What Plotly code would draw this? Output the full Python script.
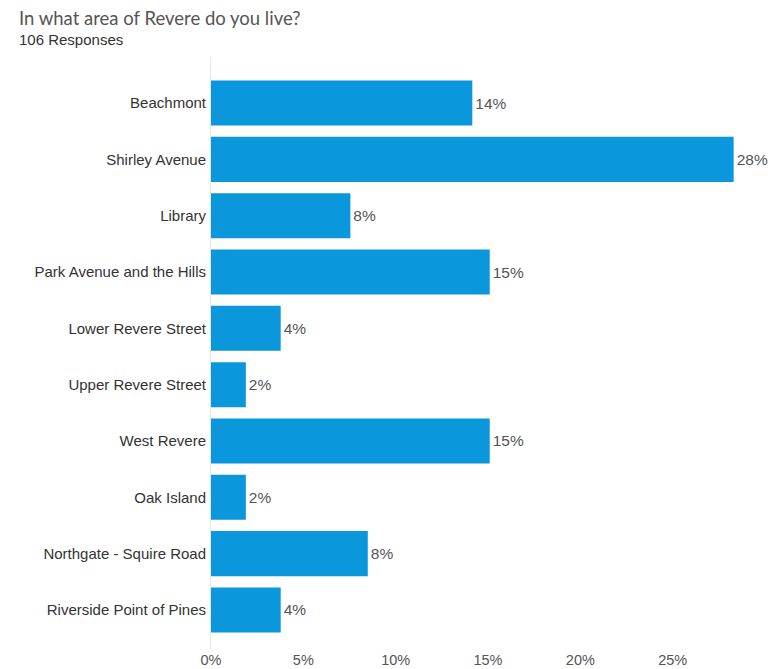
import plotly.graph_objects as go

# Survey: "In what area of Revere do you live?" (106 responses)
areas = [
    "Beachmont",
    "Shirley Avenue",
    "Library",
    "Park Avenue and the Hills",
    "Lower Revere Street",
    "Upper Revere Street",
    "West Revere",
    "Oak Island",
    "Northgate - Squire Road",
    "Riverside Point of Pines",
]
counts = [15, 30, 8, 16, 4, 2, 16, 2, 9, 4]
total_responses = 106
percents = [c / total_responses * 100 for c in counts]

x_ticks = [0, 5, 10, 15, 20, 25]
x_tick_labels = [f"{t}%" for t in x_ticks]

W, H = 778, 669
m_left, m_right, m_top, m_bottom = 211, 13, 57, 20
BASE_FONT = "Liberation Sans, Arial, sans-serif"
text_x = -(m_left - 17) / (W - m_left - m_right)
plot_h = H - m_top - m_bottom

fig = go.Figure(
    go.Bar(
        x=percents,
        y=areas,
        orientation="h",
        marker=dict(color="#0a97dc", line=dict(width=0)),
        text=[f"{p:.0f}%" for p in percents],
        textposition="outside",
        textfont=dict(family=BASE_FONT, size=15.5, color="#555555"),
        cliponaxis=False,
        hoverinfo="skip",
    )
)

fig.update_layout(
    width=W,
    height=H,
    margin=dict(l=m_left, r=m_right, t=m_top, b=m_bottom, pad=0),
    paper_bgcolor="white",
    plot_bgcolor="white",
    bargap=0.2,
    showlegend=False,
    font=dict(family=BASE_FONT, size=15, color="#333333"),
    xaxis=dict(
        range=[0, 30],
        tickvals=x_ticks,
        ticktext=x_tick_labels,
        showgrid=False,
        zeroline=False,
        showline=False,
        ticks="",
        tickfont=dict(size=14.5, color="#555555"),
        automargin=False,
    ),
    yaxis=dict(
        categoryorder="array",
        categoryarray=areas,
        range=[9.693, -0.817],
        showgrid=False,
        zeroline=False,
        showline=True,
        linecolor="#e6e6e6",
        linewidth=1,
        ticks="",
        ticklabelstandoff=1,
        tickfont=dict(size=15, color="#333333"),
        automargin=False,
    ),
    annotations=[
        dict(
            text="In what area of Revere do you live?",
            xref="paper", yref="paper",
            x=text_x,
            y=1 + (m_top - 18) / plot_h,
            xanchor="left", yanchor="middle",
            showarrow=False,
            font=dict(family="Lato, Liberation Sans, sans-serif", size=18.5, color="#555555"),
        ),
        dict(
            text=f"{total_responses} Responses",
            xref="paper", yref="paper",
            x=text_x,
            y=1 + (m_top - 40) / plot_h,
            xanchor="left", yanchor="middle",
            showarrow=False,
            font=dict(size=15, color="#333333"),
        ),
    ],
)

fig.write_html("out.html")
